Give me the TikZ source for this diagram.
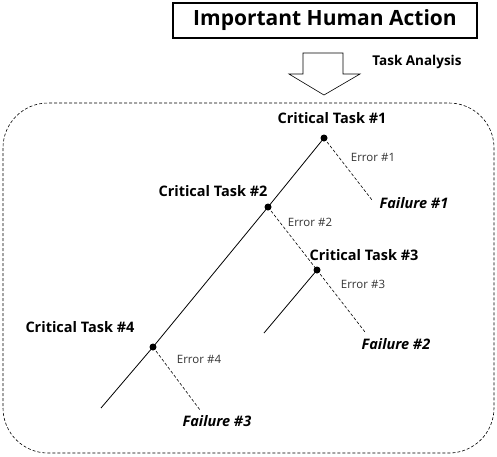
\documentclass[tikz,border=0pt]{standalone}
\usepackage{fontspec}
\setmainfont{Open Sans}
\usetikzlibrary{shapes.arrows}
\begin{document}
\begin{tikzpicture}[x=1pt,y=-1pt,
  dot/.style={circle,fill=black,inner sep=0pt,minimum size=7pt},
  tasklbl/.style={font=\fontsize{14.5}{16}\selectfont\bfseries,inner sep=0pt},
  errlbl/.style={font=\fontsize{11.5}{13}\selectfont,text=black!80,inner sep=0pt},
  faillbl/.style={font=\fontsize{14.5}{16}\selectfont\bfseries\itshape,inner sep=0pt},
  sline/.style={line width=0.8pt},
  dline/.style={line width=0.6pt,dash pattern=on 3pt off 2pt}]
\useasboundingbox (0,0) rectangle (497,456);
% title
\node[draw,line width=1.2pt,minimum width=304pt,minimum height=35pt,font=\fontsize{21}{24}\selectfont\bfseries] (title) at (325,20.5) {Important Human Action};
% block arrow
\draw[line width=0.6pt] (303,53) -- (343,53) -- (343,74) -- (360,74) -- (324,95) -- (289,74) -- (303,74) -- cycle;
\node[font=\fontsize{13.5}{15}\selectfont\bfseries,inner sep=0pt] (ta) at (417,62) {Task Analysis};
% dashed frame
\draw[dline,rounded corners=45pt] (3,103) rectangle (494,453);
% points
\node[dot] (p1) at (324,138) {};
\node[dot] (p2) at (268,207) {};
\node[dot] (p3) at (317,270) {};
\node[dot] (p4) at (153,347) {};
\coordinate (e0) at (101,408);
\coordinate (f1) at (372,200);
\coordinate (f2) at (365,332);
\coordinate (e3) at (264,333);
\coordinate (f3) at (200,410);
% lines
\draw[sline] (p1.center) -- (p2.center) -- (p4.center) -- (e0);
\draw[sline] (p3.center) -- (e3);
\draw[dline] (p1.center) -- (f1);
\draw[dline] (p2.center) -- (p3.center) -- (f2);
\draw[dline] (p4.center) -- (f3);
% labels
\node[tasklbl] (t1) at (332,118) {Critical Task \#1};
\node[tasklbl] (t2) at (213,191) {Critical Task \#2};
\node[tasklbl] (t3) at (364,255) {Critical Task \#3};
\node[tasklbl] (t4) at (80,327) {Critical Task \#4};
\node[errlbl] (r1) at (373,157) {Error \#1};
\node[errlbl] (r2) at (310,222) {Error \#2};
\node[errlbl] (r3) at (363,284) {Error \#3};
\node[errlbl] (r4) at (199,359) {Error \#4};
\node[faillbl] (x1) at (414,203) {Failure \#1};
\node[faillbl] (x2) at (396,344) {Failure \#2};
\node[faillbl] (x3) at (217,421) {Failure \#3};
\end{tikzpicture}
\end{document}
